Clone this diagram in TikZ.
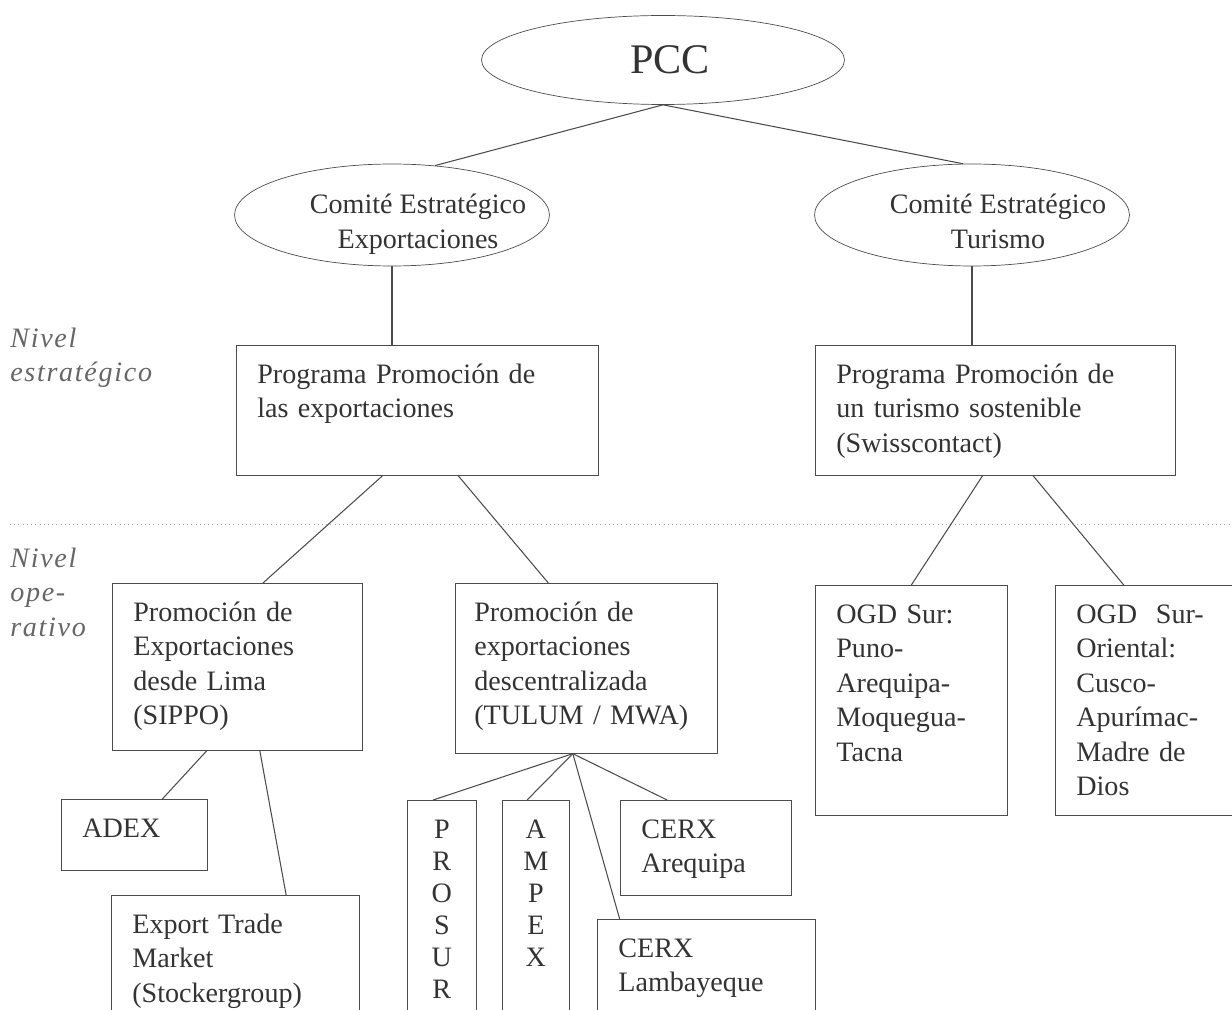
\documentclass[tikz,border=0pt]{standalone}
\usepackage{fontspec}
\setmainfont{Liberation Serif}
\newfontfamily\nivelfont[LetterSpace=6]{Liberation Serif}
\usepackage{tikz}
\usetikzlibrary{shapes.geometric}

\newcommand{\textoelipse}[1]{\hspace*{0.52cm}\raisebox{-0.34cm}[0pt][0pt]{\begin{tabular}{@{}c@{}}#1\end{tabular}}\hspace*{-0.52cm}}

\begin{document}
\begin{tikzpicture}[x=0.02cm, y=-0.02cm,
    elipse/.style={draw=black!70, ellipse, inner sep=0pt, text=black!80, font=\fontsize{16}{19.8}\selectfont},
    caja/.style={draw=black!70, anchor=north west, align=left, inner xsep=0.42cm, inner ysep=0pt, text height=0.76cm, text=black!80, font=\fontsize{16}{19.6}\selectfont},
    letras/.style={caja, align=center, inner xsep=0.3cm, font=\fontsize{16}{18.2}\selectfont},
    nivel/.style={anchor=north west, align=left, inner sep=0pt, text width=3.6cm, text height=0.4cm, text=black!60, font=\nivelfont\itshape\fontsize{16}{19.6}\selectfont},
    enlace/.style={draw=black!70, line width=0.6pt}]
\useasboundingbox (0,0) rectangle (1232,1010);

\node[elipse, minimum width=7.26cm, minimum height=1.78cm, font=\fontsize{24}{28}\selectfont] (pcc) at (663,60) {\hspace*{0.14cm}PCC\hspace*{-0.14cm}};
\node[elipse, minimum width=6.3cm, minimum height=2.04cm] (comite_exp) at (392,215) {\textoelipse{Comité Estratégico\\Exportaciones}};
\node[elipse, minimum width=6.3cm, minimum height=2.04cm] (comite_tur) at (972,215) {\textoelipse{Comité Estratégico\\Turismo}};

\node[caja, text width=6.40cm, text depth=1.84cm] (prog_exp) at (236,345) {Programa Promoción de\\las exportaciones};
\node[caja, text width=6.36cm, text depth=1.84cm] (prog_tur) at (815,345) {Programa Promoción de\\un turismo sostenible\\(Swisscontact)};

\node[nivel] (nivel_est) at (10,327) {Nivel\\estratégico};
\draw[dotted, black!35] (10,524) -- (1232,524);
\node[nivel] (nivel_op) at (10,547) {Nivel\\ope-\\rativo};

\node[caja, text width=4.16cm, text depth=2.58cm] (prom_lima) at (112,583) {Promoción de\\Exportaciones\\desde Lima\\(SIPPO)};
\node[caja, inner xsep=0.38cm, text width=4.48cm, text depth=2.64cm] (prom_desc) at (455,583) {Promoción de\\exportaciones\\descentralizada\\(TULUM~/~MWA)};
\node[caja, text width=3.00cm, text depth=3.84cm] (ogd_sur) at (815,585) {OGD Sur:\\Puno-\\Arequipa-\\Moquegua-\\Tacna};
\node[caja, text width=2.96cm, text depth=3.84cm] (ogd_suror) at (1055,585) {OGD~~Sur-\\Oriental:\\Cusco-\\Apurímac-\\Madre de\\Dios};

\node[caja, text width=2.08cm, text depth=0.66cm] (adex) at (61,799) {ADEX};
\node[caja, text width=4.12cm, text depth=2.24cm] (export_tm) at (111,895) {Export Trade\\Market\\(Stockergroup)};
\node[letras, text width=0.78cm, text depth=4.24cm] (prosur) at (407,800) {P\\R\\O\\S\\U\\R};
\node[letras, text width=0.74cm, text depth=4.24cm] (ampex) at (502,800) {A\\M\\P\\E\\X};
\node[caja, text width=2.58cm, text depth=1.14cm] (cerx_areq) at (620,800) {CERX\\Arequipa};
\node[caja, text width=3.52cm, text depth=2.24cm] (cerx_lamb) at (597,919) {CERX\\Lambayeque};

\draw[enlace] (pcc.south) -- (comite_exp.49);
\draw[enlace] (pcc.south) -- (comite_tur.100);
\draw[enlace] (comite_exp.south) -- (comite_exp.south |- prog_exp.north);
\draw[enlace] (comite_tur.south) -- (comite_tur.south |- prog_tur.north);
\draw[enlace] (prog_exp.-118) -- (prom_lima.73);
\draw[enlace] (prog_exp.-58) -- (prom_desc.114);
\draw[enlace] (prog_tur.-101) -- (ogd_sur.north);
\draw[enlace] (prog_tur.-60) -- (ogd_suror.103);
\draw[enlace] (prom_lima.-110) -- (adex.52);
\draw[enlace] (prom_lima.-75) -- (export_tm.56);
\draw[enlace] (prom_desc.-99) -- (prosur.94);
\draw[enlace] (prom_desc.-99) -- (ampex.94);
\draw[enlace] (prom_desc.-99) -- (cerx_areq.129);
\draw[enlace] (prom_desc.-99) -- (cerx_lamb.139);

\end{tikzpicture}
\end{document}
